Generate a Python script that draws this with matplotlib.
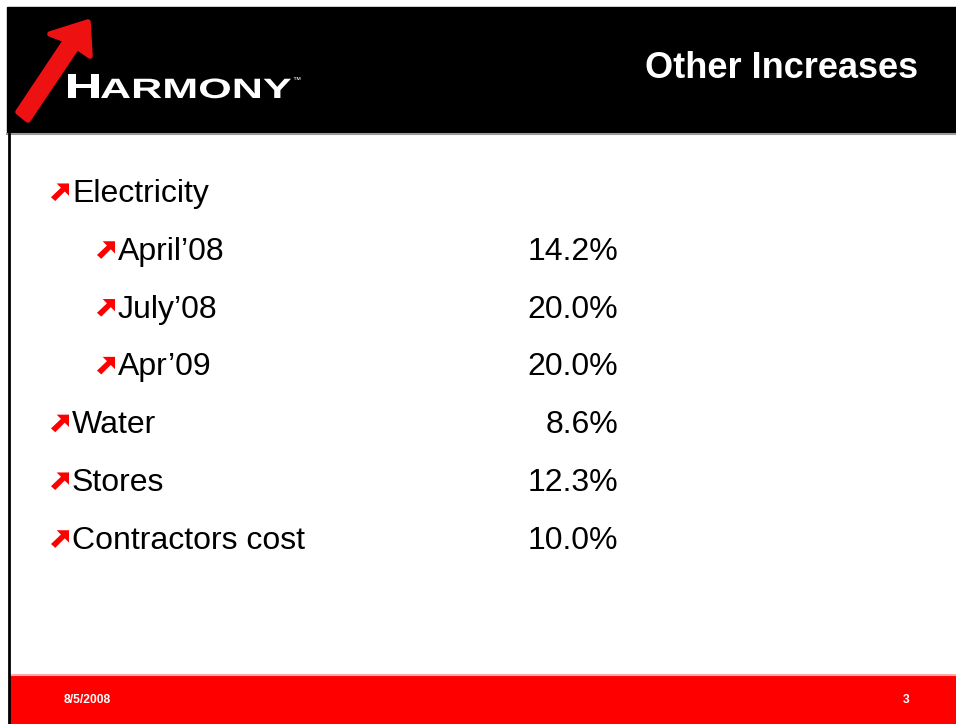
import matplotlib.pyplot as plt
from matplotlib.patches import Rectangle, Polygon, PathPatch
from matplotlib.textpath import TextPath
from matplotlib.font_manager import FontProperties
from matplotlib.transforms import Affine2D
import numpy as np

plt.rcParams['font.family'] = ['Liberation Sans', 'DejaVu Sans']

# --- slide content ---
title = "Other Increases"
items = ["Electricity", "April\u201908", "July\u201908", "Apr\u201909", "Water", "Stores", "Contractors cost"]
levels = [0, 1, 1, 1, 0, 0, 0]
values = ["", "14.2%", "20.0%", "20.0%", "8.6%", "12.3%", "10.0%"]
footer_date = "8/5/2008"
page_no = "3"

W, H = 956, 724
fig = plt.figure(figsize=(W / 100, H / 100), dpi=100)
ax = fig.add_axes([0, 0, 1, 1])
ax.set_xlim(0, W)
ax.set_ylim(H, 0)
ax.axis('off')

# header band, left rule, footer band
ax.add_patch(Rectangle((7, 7), W - 7, 126, color='black'))
ax.plot([7, W], [134, 134], color='#999999', lw=1.5)
ax.add_patch(Rectangle((10, 676), W - 10, H - 676, color='#ff0000'))
ax.plot([10, W], [675, 675], color='#ffaaaa', lw=1.5)
ax.plot([9, 9], [134, H], color='black', lw=2)

# logo: red arrow
arrow = np.array([[18, 112], [66, 40], [50, 34], [88, 22], [90, 56], [77, 47], [28, 120]])
ax.add_patch(Polygon(arrow, closed=True, facecolor='#ee1111', edgecolor='#ee1111',
                     lw=4, joinstyle='round'))

bold = FontProperties(family='Liberation Sans', weight='bold')


def stretched_text(s, x, base, size, width):
    tp = TextPath((0, 0), s, size=size, prop=bold)
    ext = tp.get_extents()
    sx = width / ext.width
    tr = Affine2D().translate(-ext.x0, 0).scale(sx, -1).translate(x, base)
    ax.add_patch(PathPatch(tr.transform_path(tp), color='white', lw=0))


stretched_text("H", 68, 98, 35, 31)
stretched_text("ARMONY", 101, 98, 28, 190)
ax.text(292, 80, "\u2122", color='white', fontsize=6, va='center', ha='left')

ax.text(918, 68, title, color='white', fontsize=26, fontweight='bold', ha='right', va='center')


def bullet(x, y):
    # small red arrow pointing up-right
    s = 9.5
    pts = np.array([[-0.95, 0.55], [0.1, -0.45], [-0.35, -0.9], [0.95, -0.9],
                    [0.95, 0.4], [0.5, -0.05], [-0.5, 0.95]])
    ax.add_patch(Polygon(pts * s + [x, y], closed=True, color='#ff0000', lw=0))


base0, dy = 202, 57.8
for i, (lab, lev, val) in enumerate(zip(items, levels, values)):
    yb = base0 + i * dy
    bx = 60 + 46 * lev
    bullet(bx, yb - 10)
    ax.text(bx + 12, yb, lab, fontsize=23, ha='left', va='baseline', color='black')
    if val:
        ax.text(618, yb, val, fontsize=23, ha='right', va='baseline', color='black')

ax.text(64, 700, footer_date, color='white', fontsize=8.7, fontweight='bold', ha='left', va='center')
ax.text(910, 700, page_no, color='white', fontsize=8.7, fontweight='bold', ha='right', va='center')

fig.savefig("out.png", dpi=100)
